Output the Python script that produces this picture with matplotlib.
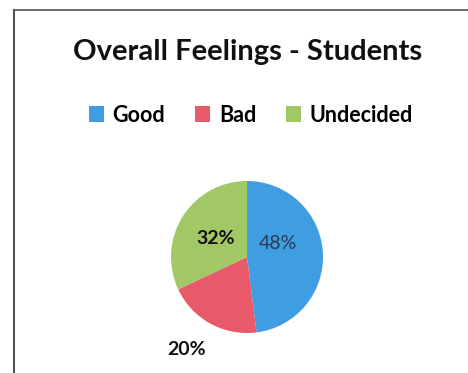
import matplotlib.pyplot as plt
from matplotlib.lines import Line2D
from matplotlib.patches import Patch

plt.rcParams['font.family'] = ['Lato', 'DejaVu Sans']

categories = ['Good', 'Bad', 'Undecided']
shares = [48, 20, 32]
colors = ['#3f9de2', '#e8596a', '#a2c866']
label_colors = ['#2b3a55', '#111111', '#111111']
label_weights = ['normal', 'bold', 'bold']
# label offsets in pie radius units
label_pos = [(0.41, 0.18), (-0.79, -1.22), (-0.41, 0.25)]

W, H = 468, 373
fig = plt.figure(figsize=(W / 100, H / 100), dpi=100)
fig.patch.set_facecolor('white')

# frame around the chart (only left and top visible in the scan)
fig.add_artist(Line2D([14 / W, 14 / W], [0, 1 - 10 / H], color='#555555', lw=1.5))
fig.add_artist(Line2D([14 / W, 1], [1 - 10 / H, 1 - 10 / H], color='#555555', lw=1.2))

fig.text(248 / W, 1 - 52 / H, 'Overall Feelings - Students', ha='center', va='center',
         fontsize=21, fontweight='bold', color='#111111')

cx, cy, r = 247, 257, 76
ax = fig.add_axes([(cx - r) / W, (H - cy - r) / H, 2 * r / W, 2 * r / H])
ax.pie(shares, colors=colors, startangle=90, counterclock=False, radius=1,
       wedgeprops=dict(edgecolor='none'))
ax.set_xlim(-1, 1)
ax.set_ylim(-1, 1)
ax.set_aspect('equal')
ax.axis('off')

for v, (x, y), c, w in zip(shares, label_pos, label_colors, label_weights):
    ax.text(x, y, f'{v}%', ha='center', va='center', fontsize=14, color=c,
            fontweight=w, clip_on=False)

handles = [Patch(facecolor=c, edgecolor='none') for c in colors]
fig.legend(handles, categories, loc='center', bbox_to_anchor=(251 / W, 1 - 115 / H),
           ncol=3, frameon=False, handlelength=0.7, handleheight=0.7,
           handletextpad=0.4, columnspacing=1.4, borderpad=0,
           prop=dict(weight='bold', size=15.5))

fig.savefig('out.png', dpi=100)
